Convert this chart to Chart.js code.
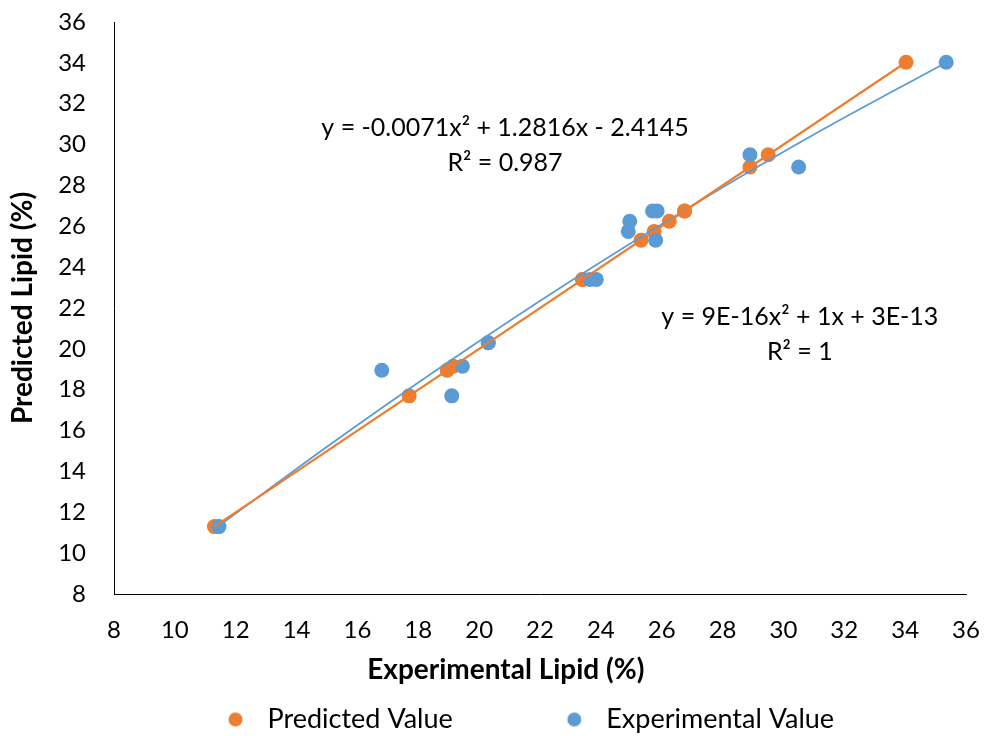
<!DOCTYPE html>
<html>
<head>
<meta charset="utf-8">
<script src="https://cdn.jsdelivr.net/npm/chart.js@4"></script>
<style>
  body { margin: 0; background: #fff; }
  #wrap { width: 984px; height: 736px; position: relative; }
</style>
</head>
<body>
<div id="wrap"><canvas id="chart"></canvas></div>
<script>
// experimental vs predicted lipid (%)
const experimental = [11.45, 16.8, 19.1, 19.45, 20.3, 23.65, 23.85, 24.9, 24.95, 25.7, 25.85, 25.8, 28.9, 30.5, 35.35];
const predicted = [11.3, 18.95, 17.7, 19.15, 20.3, 23.4, 23.4, 25.75, 26.25, 26.75, 26.75, 25.32, 29.5, 28.9, 34.03];

// trendlines
const predTrendX = [11.3, 34.03];
const predTrendY = [11.3, 34.03];
const expTrendX = [11.45, 15, 19, 23, 27, 31, 35.35];
const expTrendY = [11.33, 15.21, 19.37, 23.31, 27.01, 30.49, 34.02];

// equation labels: text lines and their centre in data units
const expEqText = ['y = -0.0071x² + 1.2816x - 2.4145', 'R² = 0.987'];
const expEqPos = [20.85, 30.81, 29.1];
const predEqText = ['y = 9E-16x² + 1x + 3E-13', 'R² = 1'];
const predEqPos = [30.54, 21.56, 19.85];

const xTitle = 'Experimental Lipid (%)';
const yTitle = 'Predicted Lipid (%)';

const xTicks = { min: 8, max: 36, step: 2 };
const yTicks = { min: 8, max: 36, step: 2 };

const ORANGE = '#ED7D31';
const BLUE = '#5B9BD5';
const FONT = 'Lato';

const toPoints = (xs, ys) => xs.map((x, i) => ({ x: x, y: ys[i] }));

// legend marker: wide canvas with the dot near its right edge
function legendDot(color) {
  const c = document.createElement('canvas');
  c.width = 130;
  c.height = 16;
  const g = c.getContext('2d');
  g.fillStyle = color;
  g.beginPath();
  g.arc(111.5, 8, 7, 0, Math.PI * 2);
  g.fill();
  return c;
}
const dots = { 0: legendDot(ORANGE), 1: legendDot(BLUE) };

const equationLabels = {
  id: 'equationLabels',
  afterDatasetsDraw(chart) {
    const { ctx, scales } = chart;
    ctx.save();
    ctx.font = '25px ' + FONT;
    ctx.fillStyle = '#000';
    ctx.textAlign = 'center';
    ctx.textBaseline = 'middle';
    [[expEqText, expEqPos], [predEqText, predEqPos]].forEach(([lines, pos]) => {
      const px = scales.x.getPixelForValue(pos[0]);
      ctx.fillText(lines[0], px, scales.y.getPixelForValue(pos[1]));
      ctx.fillText(lines[1], px, scales.y.getPixelForValue(pos[2]));
    });
    // x axis title sits a bit left of the plot centre, like the original
    ctx.font = 'bold 28px ' + FONT;
    ctx.fillText(xTitle, chart.width * 0.514, scales.x.bottom - 26);
    ctx.restore();
  }
};

new Chart(document.getElementById('chart'), {
  type: 'scatter',
  data: {
    datasets: [
      {
        label: 'Predicted Value',
        data: toPoints(predicted, predicted),
        backgroundColor: ORANGE,
        borderWidth: 0,
        pointRadius: 7.5,
        pointHoverRadius: 7.5,
        order: 3
      },
      {
        label: 'Experimental Value',
        data: toPoints(experimental, predicted),
        backgroundColor: BLUE,
        borderWidth: 0,
        pointRadius: 7.5,
        pointHoverRadius: 7.5,
        order: 2
      },
      {
        label: 'pred trend',
        type: 'line',
        data: toPoints(predTrendX, predTrendY),
        borderColor: ORANGE,
        borderWidth: 2.25,
        pointRadius: 0,
        fill: false,
        order: 0
      },
      {
        label: 'exp trend',
        type: 'line',
        data: toPoints(expTrendX, expTrendY),
        borderColor: BLUE,
        borderWidth: 1.75,
        pointRadius: 0,
        cubicInterpolationMode: 'monotone',
        fill: false,
        order: 1
      }
    ]
  },
  options: {
    responsive: true,
    maintainAspectRatio: false,
    animation: false,
    events: [],
    layout: { padding: { left: 2, right: 18, top: 22, bottom: -7 } },
    plugins: {
      tooltip: { enabled: false },
      legend: {
        position: 'bottom',
        fullSize: false,
        align: 'start',
        labels: {
          usePointStyle: true,
          pointStyleWidth: 130,
          padding: 10,
          color: '#000',
          font: { family: FONT, size: 27 },
          generateLabels(chart) {
            const items = Chart.defaults.plugins.legend.labels.generateLabels(chart);
            return items
              .filter(it => it.datasetIndex < 2)
              .sort((a, b) => a.datasetIndex - b.datasetIndex)
              .map(it => Object.assign(it, { pointStyle: dots[it.datasetIndex] }));
          }
        }
      }
    },
    scales: {
      x: {
        type: 'linear',
        min: xTicks.min,
        max: xTicks.max,
        grid: { display: false, drawTicks: false },
        border: { display: true, color: '#000', width: 1 },
        ticks: { stepSize: xTicks.step, padding: 22, color: '#000', font: { family: FONT, size: 24 } },
        title: { display: false },
        afterFit(scale) {
          scale.height = 102;
          scale.paddingLeft = 0;
          scale.paddingRight = 0;
        }
      },
      y: {
        type: 'linear',
        min: yTicks.min,
        max: yTicks.max,
        grid: { display: false, drawTicks: false },
        border: { display: true, color: '#000', width: 1 },
        ticks: { stepSize: yTicks.step, padding: 28, color: '#000', font: { family: FONT, size: 24 } },
        title: {
          display: true,
          text: yTitle,
          color: '#000',
          font: { family: FONT, size: 28, weight: 'bold' },
          padding: { top: 4.2, bottom: 0 }
        },
        afterFit(scale) {
          scale.width = 112;
          scale.paddingTop = 0;
          scale.paddingBottom = 0;
        }
      }
    }
  },
  plugins: [equationLabels]
});
</script>
</body>
</html>
